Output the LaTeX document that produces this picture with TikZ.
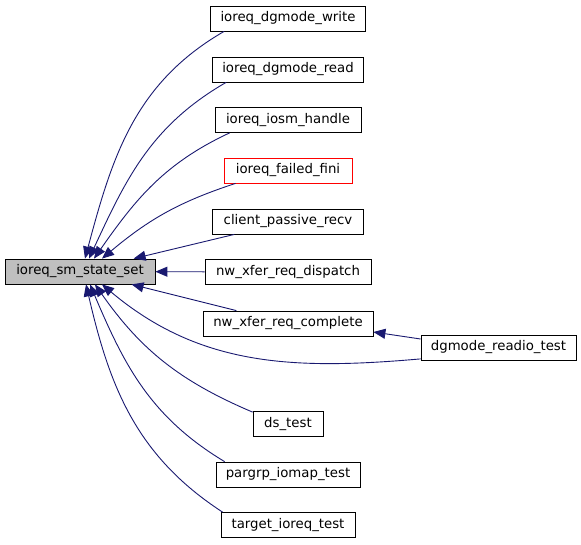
\documentclass[tikz,border=0pt]{standalone}
\usepackage{fontspec}
\setmainfont{DejaVu Sans}
\definecolor{edgeblue}{RGB}{25,25,112}
\definecolor{maingray}{RGB}{191,191,191}
\usetikzlibrary{arrows.meta,positioning}

\begin{document}
\begin{tikzpicture}[x=1pt, y=1pt,
  fnbox/.style={draw=black, fill=white, line width=0.8pt, minimum height=25pt,
                inner sep=0pt, font=\fontsize{13.3}{16}\selectfont},
  call/.style={draw=edgeblue, line width=0.9pt, -{Triangle[length=12pt,width=10pt]}}]
\useasboundingbox (0,0) rectangle (581,-544);

% --- Called function ---
\node[fnbox, fill=maingray, minimum width=150pt] (main) at (80,-271.5) {ioreq\_sm\_state\_set};

% --- Callers ---
\node[fnbox, minimum width=155pt] (write) at (288,-18.5) {ioreq\_dgmode\_write};
\node[fnbox, minimum width=151pt] (read) at (288,-69.5) {ioreq\_dgmode\_read};
\node[fnbox, minimum width=146pt] (iosm) at (288,-120) {ioreq\_iosm\_handle};
\node[fnbox, draw=red, minimum width=128pt] (fini) at (288,-170.5) {ioreq\_failed\_fini};
\node[fnbox, minimum width=151pt] (client) at (288,-221.5) {client\_passive\_recv};
\node[fnbox, minimum width=166pt] (dispatch) at (288,-272) {nw\_xfer\_req\_dispatch};
\node[fnbox, minimum width=170pt] (complete) at (288,-323.5) {nw\_xfer\_req\_complete};
\node[fnbox, minimum width=70pt] (ds) at (288,-424) {ds\_test};
\node[fnbox, minimum width=144pt] (pargrp) at (288,-474.5) {pargrp\_iomap\_test};
\node[fnbox, minimum width=134pt] (target) at (288,-525) {target\_ioreq\_test};

% Second level caller
\node[fnbox, minimum width=155pt] (readio) at (498.5,-347.5) {dgmode\_readio\_test};

% --- Calls from above ---
\draw[call] ([xshift=14pt]write.south west) to[out=210, in=75] ([xshift=5pt]main.north);
\draw[call] ([xshift=14pt]read.south west) to[out=210, in=65] ([xshift=9pt]main.north);
\draw[call] ([xshift=15pt]iosm.south west) to[out=205, in=55] ([xshift=14pt]main.north);
\draw[call] ([xshift=12pt]fini.south west) to[out=198, in=40] ([xshift=22pt]main.north);
\draw[call] (client) -- (main);
\draw[call] (dispatch) -- (main);

% --- Calls from below ---
\draw[call] (complete) -- (main);
\draw[call] ([yshift=1.5pt]readio.south west) to[out=185, in=-40] ([xshift=22pt]main.south);
\draw[call] ([yshift=8.5pt]readio.west) -- ([yshift=-8.5pt]complete.east);
\draw[call] ([yshift=-1pt]ds.north west) to[out=157, in=-55] ([xshift=15pt]main.south);
\draw[call] ([xshift=9pt]pargrp.north west) to[out=149, in=-67] ([xshift=10pt]main.south);
\draw[call] ([xshift=2pt]target.north west) to[out=147, in=-77] ([xshift=6pt]main.south);

\end{tikzpicture}
\end{document}
